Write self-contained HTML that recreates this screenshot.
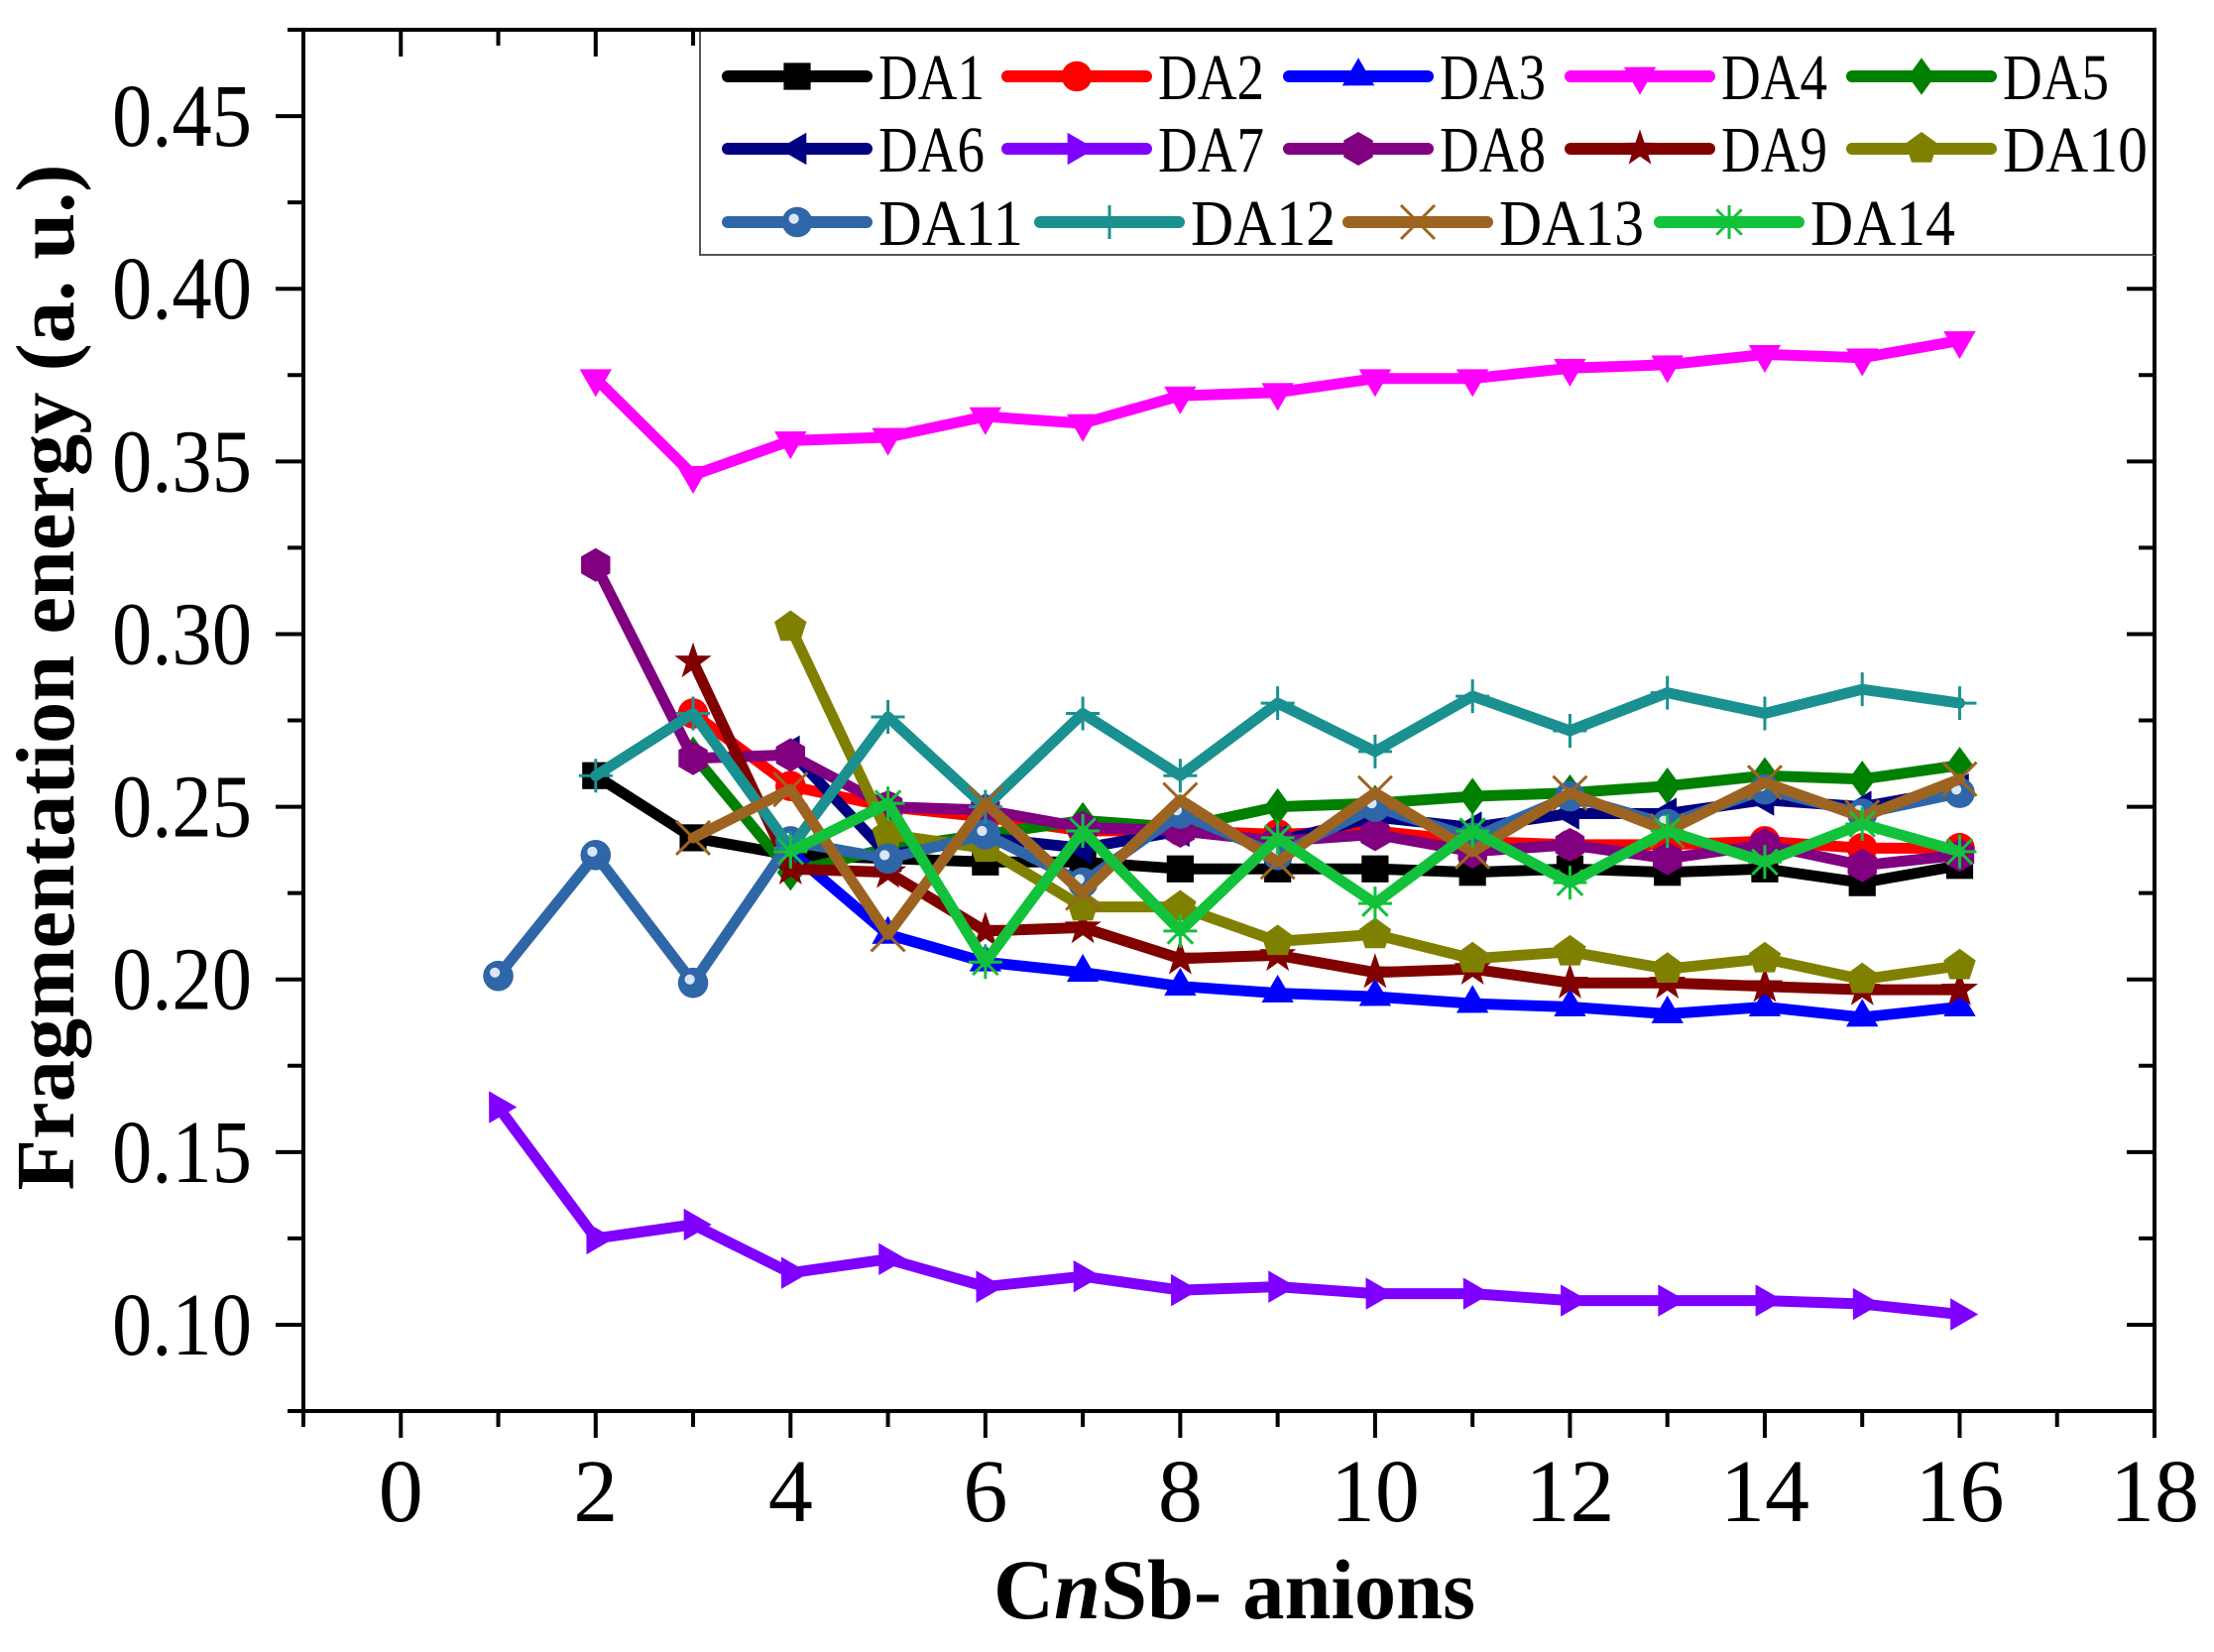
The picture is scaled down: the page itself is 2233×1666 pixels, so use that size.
<!DOCTYPE html>
<html><head><meta charset="utf-8"><style>
html,body{margin:0;padding:0;background:#fff;}
svg{display:block;}
text{font-family:"Liberation Serif",serif;fill:#000;}
</style></head><body>
<svg id="chart" width="2233" height="1666" viewBox="0 0 2233 1666" xmlns="http://www.w3.org/2000/svg">
<g id="grid-layer"></g>
<g id="series-layer"></g>
<g id="legend-layer"></g>
<text transform="translate(74,683) rotate(-90)" text-anchor="middle" font-size="84" font-weight="bold" textLength="1035" lengthAdjust="spacingAndGlyphs">Fragmentation energy (a. u.)</text>
<text x="1245" y="1632" text-anchor="middle" font-size="86" font-weight="bold" textLength="486" lengthAdjust="spacingAndGlyphs">C<tspan font-style="italic">n</tspan>Sb- anions</text>
</svg>
<script>
const xTicks = [0, 2, 4, 6, 8, 10, 12, 14, 16, 18];
const yTicks = [0.10, 0.15, 0.20, 0.25, 0.30, 0.35, 0.40, 0.45];
const yTickLabels = ["0.10", "0.15", "0.20", "0.25", "0.30", "0.35", "0.40", "0.45"];
const seriesNames = ["DA1","DA2","DA3","DA4","DA5","DA6","DA7","DA8","DA9","DA10","DA11","DA12","DA13","DA14"];
const startN = [2,3,4,2,3,4,1,2,3,4,1,2,3,4];
const da1 = [0.259,0.241,0.236,0.235,0.234,0.234,0.232,0.232,0.232,0.231,0.232,0.231,0.232,0.228,0.233];
const da2 = [0.277,0.256,0.250,0.247,0.243,0.243,0.242,0.243,0.240,0.239,0.239,0.240,0.238,0.238];
const da3 = [0.237,0.213,0.205,0.202,0.198,0.196,0.195,0.193,0.192,0.190,0.192,0.189,0.192];
const da4 = [0.374,0.346,0.356,0.357,0.363,0.361,0.369,0.370,0.374,0.374,0.377,0.378,0.381,0.380,0.385];
const da5 = [0.265,0.231,0.238,0.242,0.246,0.244,0.250,0.251,0.253,0.254,0.256,0.259,0.258,0.262];
const da6 = [0.266,0.236,0.241,0.238,0.243,0.240,0.247,0.244,0.248,0.248,0.252,0.250,0.255];
const da7 = [0.163,0.125,0.129,0.115,0.119,0.111,0.114,0.110,0.111,0.109,0.109,0.107,0.107,0.107,0.106,0.103];
const da8 = [0.320,0.264,0.265,0.250,0.249,0.244,0.243,0.240,0.242,0.237,0.239,0.235,0.239,0.233,0.236];
const da9 = [0.292,0.232,0.231,0.214,0.215,0.206,0.207,0.202,0.203,0.199,0.199,0.198,0.197,0.197];
const da10 = [0.302,0.242,0.238,0.221,0.221,0.211,0.213,0.206,0.208,0.203,0.206,0.200,0.204];
const da11 = [0.201,0.236,0.199,0.240,0.235,0.242,0.228,0.248,0.236,0.250,0.241,0.253,0.245,0.255,0.248,0.254];
const da12 = [0.259,0.277,0.238,0.276,0.250,0.277,0.259,0.280,0.266,0.282,0.272,0.283,0.277,0.284,0.280];
const da13 = [0.241,0.255,0.213,0.251,0.225,0.252,0.234,0.254,0.237,0.254,0.243,0.257,0.247,0.258];
const da14 = [0.237,0.251,0.205,0.243,0.214,0.241,0.222,0.243,0.228,0.243,0.234,0.245,0.237];
const allSeries = [da1,da2,da3,da4,da5,da6,da7,da8,da9,da10,da11,da12,da13,da14];

const colors = ["#000000","#ff0000","#0000ff","#ff00ff","#008000","#000080","#8000ff","#800080","#800000","#808000","#2f66a8","#1a9090","#9c6420","#12c23a"];
const shapes = ["square","circle","up","down","diamond","left","right","hex","star","pent","sphere","plus","cross","aster"];

const L=306, R=2173, T=30, B=1423, xMin=-1, xMax=18, yMin=0.075, yMax=0.475;
const xs = v => L + (v - xMin) / (xMax - xMin) * (R - L);
const ys = v => B - (v - yMin) / (yMax - yMin) * (B - T);
const NS = "http://www.w3.org/2000/svg";
function mk(tag, attrs, parent){ const e=document.createElementNS(NS,tag); for(const k in attrs) e.setAttribute(k,attrs[k]); parent.appendChild(e); return e; }

const axes = document.getElementById("grid-layer");
const frame = mk("rect",{x:L,y:T,width:R-L,height:B-T,fill:"none",stroke:"#000","stroke-width":4},axes);


for(let v=-1; v<=18; v++){
  const major = v % 2 === 0;
  const x = xs(v);
  const t = mk("line",{x1:x,y1:B,x2:x,y2:B+(major?27:16),stroke:"#000","stroke-width":4},axes);
  
  
  const t2 = mk("line",{x1:x,y1:T,x2:x,y2:T+(major?27:16),stroke:"#000","stroke-width":4},axes);
  
  
}
xTicks.forEach(v=>{
  const tx = mk("text",{x:xs(v),y:1534,"text-anchor":"middle","font-size":90},axes);
  tx.textContent = String(v);
  
  
});
for(let i=0;i<=16;i++){
  const v = yMin + i*0.025;
  const major = i % 2 === 1;
  const y = ys(v);
  const t = mk("line",{x1:L,y1:y,x2:L-(major?28:16),y2:y,stroke:"#000","stroke-width":4},axes);
  
  
  const t2 = mk("line",{x1:R,y1:y,x2:R-(major?28:16),y2:y,stroke:"#000","stroke-width":4},axes);
  
  
}
yTicks.forEach((v,i)=>{
  const ty = mk("text",{x:113,y:ys(v)+30,"font-size":90,textLength:141,lengthAdjust:"spacingAndGlyphs"},axes);
  ty.textContent = yTickLabels[i];
  
  
});

function marker(shape, cx, cy, color, parent, s){
  const g = mk("g",{transform:`translate(${cx},${cy})`},parent);
  const r = s;
  const poly = (n, rot, rad) => { let p=[]; for(let i=0;i<n;i++){ const a=rot+i*2*Math.PI/n; p.push((rad*Math.cos(a)).toFixed(1)+","+(rad*Math.sin(a)).toFixed(1)); } return p.join(" "); };
  switch(shape){
    case "square": mk("rect",{x:-r*0.8,y:-r*0.8,width:r*1.6,height:r*1.6,fill:color},g); break;
    case "circle": mk("circle",{r:r*0.9,fill:color},g); break;
    case "up": mk("polygon",{points:poly(3,-Math.PI/2,r*1.1),fill:color},g); break;
    case "down": mk("polygon",{points:poly(3,Math.PI/2,r*1.1),fill:color},g); break;
    case "diamond": mk("polygon",{points:`0,${-r*1.1} ${r*0.8},0 0,${r*1.1} ${-r*0.8},0`,fill:color},g); break;
    case "left": mk("polygon",{points:poly(3,Math.PI,r*1.1),fill:color},g); break;
    case "right": mk("polygon",{points:poly(3,0,r*1.1),fill:color},g); break;
    case "hex": mk("polygon",{points:poly(6,-Math.PI/2,r),fill:color},g); break;
    case "star": { let p=[]; for(let i=0;i<10;i++){ const a=-Math.PI/2+i*Math.PI/5; const rr=i%2?r*0.45:r*1.15; p.push((rr*Math.cos(a)).toFixed(1)+","+(rr*Math.sin(a)).toFixed(1)); } mk("polygon",{points:p.join(" "),fill:color},g); break; }
    case "pent": mk("polygon",{points:poly(5,-Math.PI/2,r),fill:color},g); break;
    case "sphere": mk("circle",{r:r*0.9,fill:color},g); mk("circle",{cx:-r*0.2,cy:-r*0.2,r:r*0.3,fill:"#d8e6f5"},g); break;
    case "plus": mk("path",{d:`M${-r},0H${r}M0,${-r}V${r}`,stroke:color,"stroke-width":3},g); break;
    case "cross": mk("path",{d:`M${-r},${-r}L${r},${r}M${-r},${r}L${r},${-r}`,stroke:color,"stroke-width":3},g); break;
    case "aster": mk("path",{d:`M${-r},0H${r}M0,${-r}V${r}M${-r*0.75},${-r*0.75}L${r*0.75},${r*0.75}M${-r*0.75},${r*0.75}L${r*0.75},${-r*0.75}`,stroke:color,"stroke-width":3},g); break;
  }
  return g;
}

const layer = document.getElementById("series-layer");
allSeries.forEach((vals, si)=>{
  const g = mk("g",{},layer);
  
  
  const pts = vals.map((v,i)=>xs(startN[si]+i).toFixed(1)+","+ys(v).toFixed(1)).join(" ");
  const line = mk("polyline",{points:pts,fill:"none",stroke:colors[si],"stroke-width":11,"stroke-linejoin":"round","stroke-linecap":"round"},g);
  
  
  vals.forEach((v,i)=>{
    const m = marker(shapes[si], xs(startN[si]+i), ys(v), colors[si], g, 17);
    
    
  });
});

const lg = document.getElementById("legend-layer");
const box = mk("rect",{x:706,y:T,width:R-706,height:257-T,fill:"#fff",stroke:"#555","stroke-width":2},lg);


mk("line",{x1:L,y1:T,x2:R,y2:T,stroke:"#000","stroke-width":4},lg);
mk("line",{x1:R,y1:T,x2:R,y2:257,stroke:"#000","stroke-width":4},lg);
const rowY = [77,150,224];
const colA = [734,1016,1300,1584,1868];
const colB = [734,1049,1360,1674];
seriesNames.forEach((nm,si)=>{
  const row = Math.floor(si/5), col = si%5;
  const x0 = row<2 ? colA[col] : colB[col];
  const y = rowY[row];
  const g = mk("g",{},lg);
  
  
  mk("line",{x1:x0,y1:y,x2:x0+140,y2:y,stroke:colors[si],"stroke-width":12,"stroke-linecap":"round"},g);
  marker(shapes[si], x0+70, y, colors[si], g, 17);
  const t = mk("text",{x:x0+152,y:y+23,"font-size":66,textLength:(nm.length===3?107:146),lengthAdjust:"spacingAndGlyphs"},g);
  t.textContent = nm;
});
</script>
</body></html>
